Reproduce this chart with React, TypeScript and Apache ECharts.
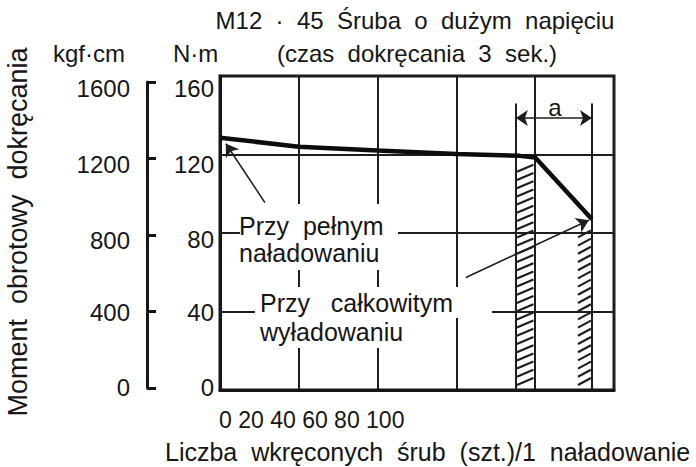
import React, { useEffect, useRef } from 'react';
import * as echarts from 'echarts';

const FONT = "'Liberation Sans', Arial, Helvetica, sans-serif";
const INK = '#161616';

// Texts
const titleLines = ['M12  ·  45  Śruba  o  dużym  napięciu', '(czas  dokręcania  3  sek.)'];
const unitLeft = 'kgf·cm';
const unitRight = 'N·m';
const yTitle = 'Moment  obrotowy  dokręcania';
const xTitle = 'Liczba  wkręconych  śrub  (szt.)/1  naładowanie';
const xTickLabels = ['0', '20', '40', '60', '80', '100'];
const noteFull = ['Przy  pełnym', 'naładowaniu'];
const noteEmpty = ['Przy   całkowitym', 'wyładowaniu'];
const dimLabel = 'a';

// Axes
const nmTicks = [0, 40, 80, 120, 160];
const kgfTicks = [0, 400, 800, 1200, 1600];

// Torque curve (N·m) versus number of screws
const curveX = [0, 20, 40, 60, 76, 80, 94.4];
const curveY = [128.5, 124, 122, 120.3, 119.3, 118.5, 87];

// Hatched zones: start, end, top (N·m)
const zoneStart = [75.1, 90.6];
const zoneEnd = [79.8, 94.4];
const zoneTop = [118.5, 87];

// Dimension "a"
const dimX = [75.1, 94.4];
const dimTop = 146;
const dimArrowY = 138.6;

// label vertical shifts (px) to mimic the scanned layout
const nmShift: Record<string, number> = { '0': -3, '40': 1, '80': 6, '120': 10, '160': 12 };
const kgfShift: Record<string, number> = { '0': -1, '400': 1, '800': 5, '1200': 6, '1600': 6 };

function richFor(values: number[], shift: Record<string, number>) {
  const r: Record<string, any> = {};
  values.forEach((v) => {
    const s = shift[String(v)] || 0;
    r['t' + v] = {
      fontSize: 24,
      fontFamily: FONT,
      color: INK,
      padding: s >= 0 ? [2 * s, 0, 0, 0] : [0, 0, -2 * s, 0],
    };
  });
  return r;
}

function hatchRender(params: any, api: any) {
  const x0 = api.value(0);
  const x1 = api.value(1);
  const top = api.value(2);
  const a = api.coord([x0, top]);
  const b = api.coord([x1, 0]);
  const left = a[0] + 1;
  const right = b[0] - 1;
  const yTop = a[1] + 3;
  const yBot = b[1] - 5;
  const step = 8.2;
  const rise = 7;
  const children: any[] = [];
  for (let y = yBot; y - rise >= yTop; y -= step) {
    children.push({
      type: 'line',
      shape: { x1: left, y1: y, x2: right, y2: y - rise },
      style: { stroke: '#1e1e1e', lineWidth: 2.2 },
    });
  }
  return { type: 'group', children };
}

function txt(text: string, x: number, y: number, size: number, align = 'left', extra: any = {}) {
  return {
    type: 'text',
    z: 20,
    x,
    y,
    ...extra,
    style: {
      text,
      x: 0,
      y: 0,
      fontSize: size,
      fontFamily: FONT,
      fill: INK,
      align,
      verticalAlign: 'middle',
      textAlign: align,
      textVerticalAlign: 'middle',
    },
  };
}

function whiteBox(x: number, y: number, w: number, h: number) {
  return { type: 'rect', z: 15, shape: { x, y, width: w, height: h }, style: { fill: '#fff' } };
}

export default function App() {
  const ref = useRef<HTMLDivElement>(null);

  useEffect(() => {
    if (!ref.current) return;
    const chart = echarts.init(ref.current, undefined, { renderer: 'svg' });

    const thin = { color: '#1e1e1e', width: 2, type: 'solid' };
    const arrowThin = { color: '#1e1e1e', width: 1.6, type: 'solid' };

    const option: any = {
      animation: false,
      backgroundColor: '#fff',
      textStyle: { fontFamily: FONT },
      grid: [
        { left: 220, top: 76, width: 394, height: 314, show: true, borderColor: INK, borderWidth: 3, backgroundColor: 'transparent' },
        { left: 147, top: 82, width: 50, height: 306 },
      ],
      xAxis: [
        {
          gridIndex: 0,
          type: 'value',
          min: 0,
          max: 100,
          interval: 20,
          axisLine: { show: true, lineStyle: { color: INK, width: 3 } },
          axisTick: { show: false },
          axisLabel: { show: false },
          splitLine: { show: true, lineStyle: { color: '#1e1e1e', width: 2, type: 'solid' } },
        },
        { gridIndex: 1, type: 'value', min: 0, max: 1, show: false },
      ],
      yAxis: [
        {
          gridIndex: 0,
          type: 'value',
          min: nmTicks[0],
          max: nmTicks[nmTicks.length - 1],
          interval: 40,
          axisLine: { show: true, lineStyle: { color: INK, width: 3 } },
          axisTick: { show: false },
          splitLine: { show: true, lineStyle: { color: '#1e1e1e', width: 2, type: 'solid' } },
          axisLabel: {
            margin: 6,
            fontSize: 24,
            color: INK,
            formatter: (v: number) => `{t${v}|${v}}`,
            rich: richFor(nmTicks, nmShift),
          },
        },
        {
          gridIndex: 1,
          type: 'value',
          min: kgfTicks[0],
          max: kgfTicks[kgfTicks.length - 1],
          interval: 400,
          axisLine: { show: true, lineStyle: { color: INK, width: 3 } },
          axisTick: { show: true, inside: true, length: 9, lineStyle: { color: INK, width: 3 } },
          splitLine: { show: false },
          axisLabel: {
            margin: 17,
            fontSize: 24,
            color: INK,
            formatter: (v: number) => `{t${v}|${v}}`,
            rich: richFor(kgfTicks, kgfShift),
          },
        },
      ],
      series: [
        {
          type: 'custom',
          xAxisIndex: 0,
          yAxisIndex: 0,
          renderItem: hatchRender,
          encode: { x: [0, 1], y: 2 },
          data: zoneStart.map((s, i) => [s, zoneEnd[i], zoneTop[i]]),
          silent: true,
          z: 3,
        },
        {
          type: 'line',
          xAxisIndex: 0,
          yAxisIndex: 0,
          data: curveX.map((x, i) => [x, curveY[i]]),
          symbol: 'none',
          lineStyle: { color: '#0d0d0d', width: 4.5 },
          z: 5,
          markLine: {
            silent: true,
            symbol: 'none',
            symbolSize: 12,
            label: { show: false },
            data: [
              [
                { coord: [dimX[0], 0], lineStyle: thin },
                { coord: [dimX[0], dimTop] },
              ],
              [
                { coord: [dimX[1], 0], lineStyle: thin },
                { coord: [dimX[1], dimTop] },
              ],
              [
                { coord: [dimX[0], dimArrowY], symbol: 'arrow', lineStyle: arrowThin },
                { coord: [dimX[1], dimArrowY], symbol: 'arrow' },
              ],
              [
                { coord: [11.4, 95.5], symbol: 'none', lineStyle: arrowThin },
                { coord: [1.5, 125.5], symbol: 'arrow' },
              ],
              [
                { coord: [62.4, 57.3], symbol: 'none', lineStyle: arrowThin },
                { coord: [93.6, 86.5], symbol: 'arrow' },
              ],
            ],
          },
        },
      ],
      graphic: [
        txt(titleLines[0], 415, 20, 24, 'center'),
        txt(titleLines[1], 417, 53, 24, 'center'),
        txt(unitLeft, 53, 53, 24, 'left'),
        txt(unitRight, 173, 53, 24, 'left'),
        txt(yTitle, 18, 232, 27, 'center', { rotation: Math.PI / 2 }),
        txt(xTickLabels.join(' '), 219, 420, 23, 'left'),
        txt(xTitle, 165, 452, 25, 'left'),
        txt(dimLabel, 555, 107, 24, 'center'),
        whiteBox(240, 204, 158, 66),
        txt(noteFull[0], 239, 226, 25, 'left'),
        txt(noteFull[1], 239, 253, 25, 'left'),
        whiteBox(255, 287, 237, 31),
        whiteBox(255, 318, 160, 30),
        txt(noteEmpty[0], 260, 303, 25, 'left'),
        txt(noteEmpty[1], 260, 332, 25, 'left'),
      ],
    };

    chart.setOption(option);
    return () => chart.dispose();
  }, []);

  return <div ref={ref} style={{ position: 'fixed', left: 0, top: 0, width: 696, height: 467 }} />;
}
